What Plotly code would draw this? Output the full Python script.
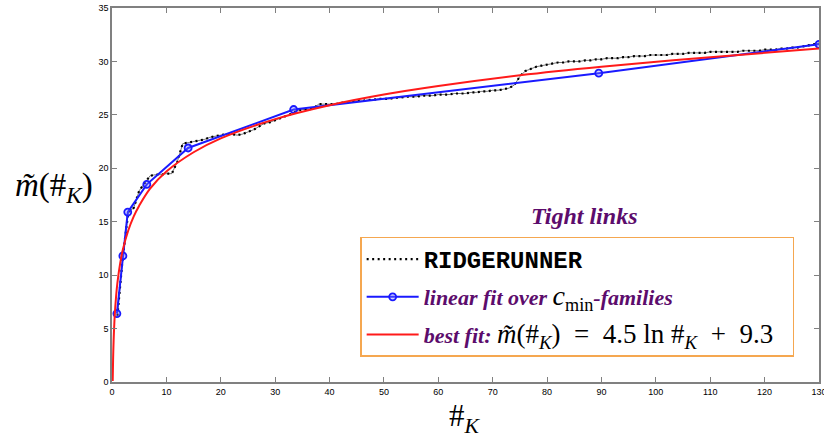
import plotly.graph_objects as go

# RIDGERUNNER data (black dotted)
ridge_x = list(range(1, 131))
ridge_y = [6.2, 11.8, 15.9, 16.3, 17.9, 18.6, 19.3, 19.4, 19.4, 19.5,
           19.5, 20.6, 22.3, 22.4, 22.5, 22.6, 22.7, 22.9, 23.0, 23.1,
           23.2, 23.2, 23.1, 23.2, 23.4, 23.6, 23.9, 24.2, 24.3, 24.5,
           24.7, 24.9, 25.1, 25.4, 25.5, 25.5, 25.6, 26.0, 26.0, 26.0,
           26.0, 26.1, 26.2, 26.2, 26.3, 26.3, 26.4, 26.4, 26.5, 26.5,
           26.5, 26.6, 26.6, 26.7, 26.7, 26.7, 26.8, 26.8, 26.8, 26.9,
           26.9, 26.9, 27.0, 27.0, 27.0, 27.1, 27.1, 27.2, 27.2, 27.3,
           27.3, 27.4, 27.5, 27.8, 28.6, 29.1, 29.3, 29.5, 29.6, 29.7,
           29.8, 29.9, 29.9, 30.0, 30.0, 30.0, 30.1, 30.1, 30.2, 30.2,
           30.3, 30.3, 30.3, 30.4, 30.4, 30.5, 30.5, 30.5, 30.6, 30.6,
           30.6, 30.6, 30.7, 30.7, 30.7, 30.8, 30.8, 30.8, 30.8, 30.9,
           30.9, 30.9, 30.9, 30.9, 30.9, 31.0, 31.0, 31.0, 31.0, 31.1,
           31.1, 31.1, 31.2, 31.2, 31.3, 31.3, 31.4, 31.5, 31.6, 31.7]

# linear fit over c_min families (blue)
cmin_x = [0.9, 2.0, 2.9, 6.4, 14.0, 33.4, 89.5, 130.0]
cmin_y = [6.4, 11.8, 15.9, 18.5, 21.9, 25.5, 28.9, 31.6]

# best fit curve (red)
fit_x = [0.13, 0.2, 0.3, 0.5, 0.75, 1, 1.5, 2, 3, 4, 5, 7, 10, 15, 20,
         30, 40, 50, 60, 75, 90, 110, 130]
fit_y = [0.1, 2.1, 3.9, 6.2, 8.0, 9.3, 11.1, 12.4, 14.2, 15.5, 16.5, 18.1,
         19.7, 21.5, 22.8, 24.6, 25.9, 26.9, 27.7, 28.7, 29.5, 30.4, 31.2]

x_ticks = list(range(0, 131, 10))
y_ticks = list(range(0, 36, 5))

PURPLE = "#5c0c6c"
SERIF = "Liberation Serif"
SP = "\u00a0"
SP2 = SP * 2

fig = go.Figure()

# thin connecting line under the dotted series
fig.add_trace(go.Scatter(x=ridge_x, y=ridge_y, mode="lines",
                         line=dict(color="rgba(40,40,40,0.8)", width=0.8),
                         showlegend=False, hoverinfo="skip"))
fig.add_trace(go.Scatter(
    x=ridge_x, y=ridge_y, mode="lines",
    line=dict(color="black", width=2.2, dash="2px,3.5px"),
    name="<span style='font-family:Liberation Mono;font-size:24px;color:black'><b>RIDGERUNNER</b></span>",
    legendgroup="a"))
fig.add_trace(go.Scatter(
    x=cmin_x, y=cmin_y, mode="lines+markers",
    line=dict(color="#1a1aff", width=2),
    marker=dict(symbol="circle", size=7, color="rgba(120,120,255,0.35)",
                line=dict(color="#1a1aff", width=1.8)),
    name="<b><i>linear fit over </i></b><span style='color:black;font-size:28px'><i>c</i></span><span style='color:black;font-size:26px'><sub>min</sub></span><b><i>-families</i></b>",
    legendgroup="b"))
fig.add_trace(go.Scatter(
    x=fit_x, y=fit_y, mode="lines", line=dict(color="#ff1a1a", width=2, shape="spline"),
    name=("<b><i>best fit: </i></b><span style='color:black;font-size:27px'><i>m̃</i>(#<sub><i>K</i></sub>)"
          + SP2 + "=" + SP2 + "4.5" + SP + "ln" + SP + "#<sub><i>K</i></sub>" + SP2 + "+" + SP2 + "9.3" + SP + SP + "</span>"),
    legendgroup="c"))

axis_common = dict(showgrid=False, zeroline=False, showline=True, linecolor="#808080",
                   linewidth=1.5, mirror="ticks", ticks="inside", ticklen=5,
                   tickcolor="#808080", tickwidth=1.2, automargin=False,
                   ticklabeloverflow="allow",
                   tickfont=dict(family="Liberation Sans", size=9, color="black"))

fig.update_layout(
    width=824, height=436,
    margin=dict(l=112, r=5, t=8, b=54, autoexpand=False),
    paper_bgcolor="white", plot_bgcolor="white",
    xaxis=dict(range=[0, 130], tickvals=x_ticks, **axis_common),
    yaxis=dict(range=[0, 35], tickvals=y_ticks, **axis_common),
    legend=dict(x=0.351, y=0.388, xanchor="left", yanchor="top",
                bordercolor="#f5a750", borderwidth=1.5, bgcolor="white",
                font=dict(family=SERIF, size=22, color=PURPLE),
                itemwidth=52,
                traceorder="grouped", tracegroupgap=6),
    annotations=[
        dict(text="<b><i>Tight links</i></b>", x=0.668, y=0.444, xref="paper", yref="paper",
             xanchor="center", yanchor="middle",
             showarrow=False, font=dict(family=SERIF, size=24, color=PURPLE)),
        dict(text="<i>m̃</i>(#<sub><i>K</i></sub>)", x=-0.082, y=0.521, xref="paper", yref="paper",
             xanchor="center", yanchor="middle",
             showarrow=False, font=dict(family=SERIF, size=33, color="black")),
        dict(text="#<sub><i>K</i></sub>", x=0.499, y=-0.096, xref="paper", yref="paper",
             xanchor="center", yanchor="middle",
             showarrow=False, font=dict(family=SERIF, size=31, color="black")),
    ],
)

fig.write_html("out.html", config={"displayModeBar": False},
               post_script="document.body.style.margin='0';document.body.style.overflow='hidden';")
